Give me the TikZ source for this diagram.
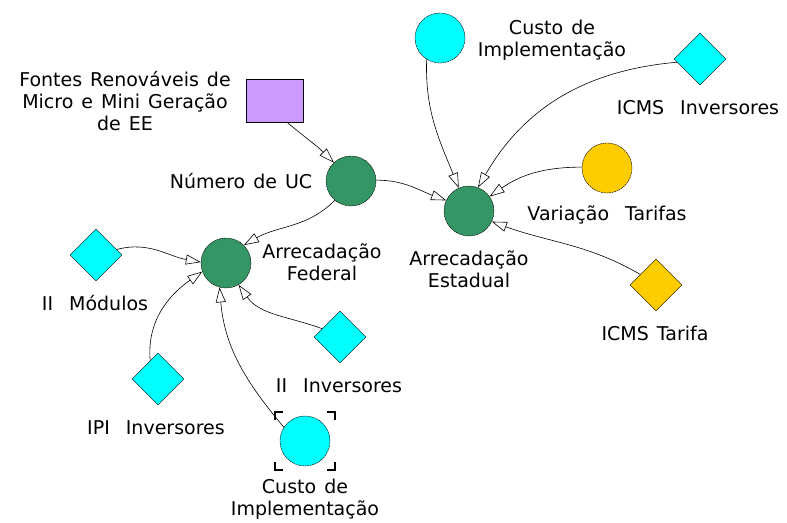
\documentclass[tikz,border=0pt]{standalone}
\usepackage{fontspec}
\setmainfont{DejaVu Sans}
\usetikzlibrary{arrows.meta,positioning,shapes.geometric}
\definecolor{vdGreen}{RGB}{51,150,100}
\definecolor{vdCyan}{RGB}{0,255,255}
\definecolor{vdYellow}{RGB}{255,204,0}
\definecolor{vdLilac}{RGB}{204,153,255}
\newcommand\wideSp{\spaceskip=8pt plus 1pt\relax}

\begin{document}
\begin{tikzpicture}[
	x=1pt,y=1pt,
	aux/.style={
		circle,
		draw=black,
		dash pattern=on 2pt off 0.6pt,
		inner sep=0pt,
		minimum size=50pt},
	const/.style={
		diamond,
		draw=black,
		inner sep=0pt,
		minimum width=52pt,
		minimum height=52pt},
	stock/.style={
		rectangle,
		draw=black,
		fill=vdLilac,
		inner sep=0pt,
		minimum width=57pt,
		minimum height=43pt},
	txt/.style={align=center,font=\fontsize{19}{22}\selectfont\wideSp},
	myarrow/.style={-{Triangle[open,length=15pt,width=10pt]},line width=0.6pt}
	]
	\useasboundingbox (0,0) rectangle (787,-522);
	
	\node[stock] (cFontes) at (275,-101) {};
	\node[aux,fill=vdGreen] (cNUC) at (351,-181) {};
	\node[aux,fill=vdGreen] (cEst) at (469,-211) {};
	\node[aux,fill=vdGreen] (cFed) at (226,-263) {};
	\node[aux,fill=vdCyan] (cCustoA) at (440,-38) {};
	\node[aux,fill=vdCyan] (cCustoB) at (305,-441) {};
	\node[aux,fill=vdYellow] (cVar) at (607,-168) {};
	\node[const,fill=vdCyan] (cICMSi) at (700,-59) {};
	\node[const,fill=vdYellow] (cICMSt) at (656,-285) {};
	\node[const,fill=vdCyan] (cIIMod) at (96,-255) {};
	\node[const,fill=vdCyan] (cIPI) at (158,-379) {};
	\node[const,fill=vdCyan] (cIIInv) at (340,-337) {};
	
	\node[txt] (lFontes) at (125,-101) {Fontes Renováveis de\\Micro e Mini Geração\\de EE};
	\node[txt,left=10pt of cNUC] (lNUC) {Número de UC};
	\node[txt] (lFed) at (322,-262) {Arrecadação\\Federal};
	\node[txt] (lEst) at (469,-269) {Arrecadação\\Estadual};
	\node[txt] (lCustoA) at (552,-40) {Custo de\\Implementação};
	\node[txt] (lICMSi) at (698,-108) {ICMS\ \ Inversores};
	\node[txt] (lVar) at (607,-215) {Variação\ \ Tarifas};
	\node[txt] (lICMSt) at (655,-333) {ICMS Tarifa};
	\node[txt] (lIIMod) at (95,-303) {II\ \ Módulos};
	\node[txt] (lIPI) at (156,-428) {IPI\ \ Inversores};
	\node[txt] (lIIInv) at (339,-386) {II\ \ Inversores};
	\node[txt] (lCustoB) at (305,-499) {Custo de\\Implementação};
	
	\foreach \i/\j/\o/\n in {% from/to/out/in
		cFontes.-60/cNUC.133/-40/135,
		cNUC.2/cEst.155/0/160,
		cNUC.-130/cFed.45/-135/30,
		cCustoA.-122/cEst.114/-92/112,
		cICMSi.188/cEst.69/185/60,
		cVar.178/cEst.35/180/35,
		cICMSt.146/cEst.-25/150/-20,
		cIIMod.15/cFed.178/15/170,
		cIPI.113/cFed.200/95/215,
		cIIInv.155/cFed.-60/160/-55,
		cCustoB.147/cFed.-105/130/-85}
	\draw[myarrow] (\i) to[out=\o,in=\n] (\j);
	
	% selection marks
	\foreach \sx/\sy in {1/1,1/-1,-1/1,-1/-1}
	\draw[line width=1.1pt] ([shift={(\sx*30,\sy*21)}]cCustoB.center) -- ([shift={(\sx*30,\sy*29)}]cCustoB.center) -- ([shift={(\sx*22,\sy*29)}]cCustoB.center);
	
\end{tikzpicture}
\end{document}
